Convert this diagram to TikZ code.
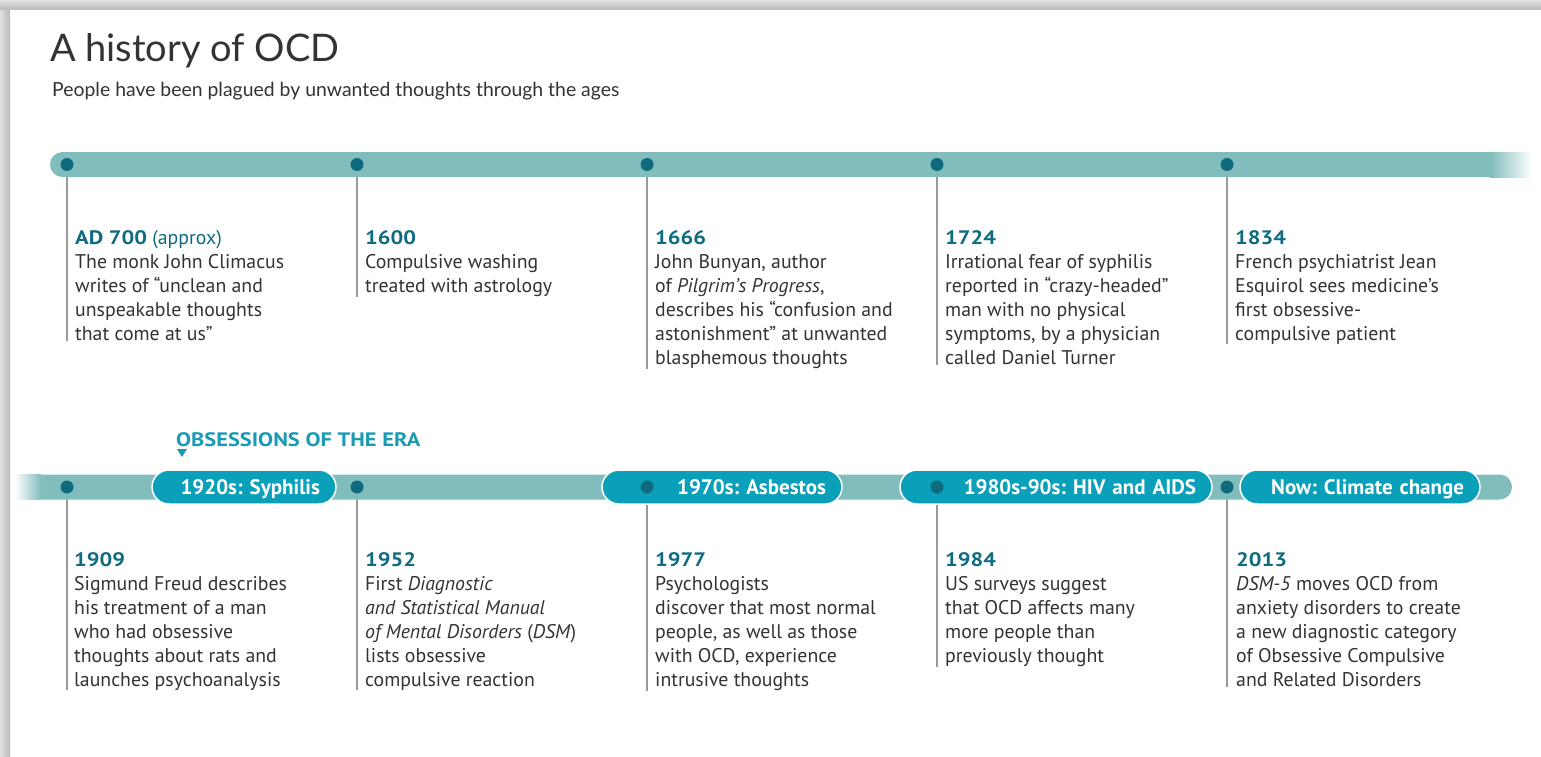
\documentclass[tikz,border=0pt]{standalone}
\usepackage{fontspec}
\setmainfont{PT Sans}
\newfontfamily\headfont{Lato}
\newfontfamily\yearfont[FakeStretch=1.15]{PT Sans}

\definecolor{barteal}{HTML}{82BDBD}
\definecolor{dotteal}{HTML}{0F6A7E}
\definecolor{pillteal}{HTML}{0AA0B9}
\definecolor{yearteal}{HTML}{0E6B80}
\definecolor{erateal}{HTML}{1A9AB5}
\definecolor{bodygray}{HTML}{333333}
\definecolor{stemgray}{HTML}{9A9A9A}

\newcommand\entrysize{\frenchspacing\fontsize{19.8}{24}\selectfont}
\newcommand\pillfont{\frenchspacing\bfseries\fontsize{21}{22}\selectfont}
\newcommand\yr[1]{{\yearfont\bfseries\fontsize{19.5}{24}\selectfont\color{yearteal}#1}}

\tikzset{
    tldot/.style = {circle, fill = dotteal, inner sep = 0pt, minimum size = 13pt},
    stem/.style = {draw = stemgray, line width = 1.5pt},
    entry/.style = {anchor = north west, inner sep = 0pt, align = left, text = bodygray, font = \entrysize},
    era/.style = {rounded corners = 17pt, fill = pillteal, draw = white, line width = 1.5pt, text = white,
        font = \pillfont, minimum height = 34pt, inner xsep = 16pt, inner ysep = 0pt, align = right,
        text height = 14.5pt, text depth = 0pt}
}

\begin{document}
\begin{tikzpicture}[x = 1pt, y = -1pt]
        \useasboundingbox (0, 0) rectangle (1541, 757);
        \fill [white] (0, 0) rectangle (1541, 757);
        \shade [left color = gray!25, right color = gray!55] (0, 0) rectangle (10, 757);
        \shade [top color = gray!25, bottom color = gray!55] (0, 0) rectangle (1541, 10);

        \node [anchor = base west, inner sep = 0pt, text = bodygray, font = \headfont\fontsize{38}{40}\selectfont] (title) at (50, 62) {A history of OCD};
        \node [anchor = base west, inner sep = 0pt, text = bodygray, font = \headfont\fontsize{19.4}{20}\selectfont] (subtitle) at (52, 97) {People have been plagued by unwanted thoughts through the ages};

        \node [tldot] (d1) at (67, 164) {};
        \node [tldot] (d2) at (357, 164) {};
        \node [tldot] (d3) at (647, 164) {};
        \node [tldot] (d4) at (937, 164) {};
        \node [tldot] (d5) at (1227, 164) {};

        \node [entry] (t1) at (75, 230) {\yr{AD 700} {\color{yearteal}(approx)}\\The monk John Climacus\\writes of “unclean and\\unspeakable thoughts\\that come at us”};
        \node [entry] (t2) at (365, 230) {\yr{1600}\\Compulsive washing\\treated with astrology};
        \node [entry] (t3) at (655, 230) {\yr{1666}\\John Bunyan, author\\of \textit{Pilgrim’s Progress},\\describes his “confusion and\\astonishment” at unwanted\\blasphemous thoughts};
        \node [entry] (t4) at (945, 230) {\yr{1724}\\Irrational fear of syphilis\\reported in “crazy-headed”\\man with no physical\\symptoms, by a physician\\called Daniel Turner};
        \node [entry] (t5) at (1235, 230) {\yr{1834}\\French psychiatrist Jean\\Esquirol sees medicine’s\\first obsessive-\\compulsive patient};

        \draw [stem] (d1.center) -- (d1.center |- t1.south);
        \draw [stem] (d2.center) -- (d2.center |- t2.south);
        \draw [stem] (d3.center) -- (d3.center |- t3.south);
        \draw [stem] (d4.center) -- (d4.center |- t4.south);
        \draw [stem] (d5.center) -- (d5.center |- t5.south);

        \fill [barteal] (1491, 152) -- (62.5, 152) arc (270:90:12.5) -- (1491, 177) -- cycle;
        \shade [left color = barteal, right color = white] (1490, 152) rectangle (1532, 177);

        \node [tldot] (d1) at (67, 164.5) {};
        \node [tldot] (d2) at (357, 164.5) {};
        \node [tldot] (d3) at (647, 164.5) {};
        \node [tldot] (d4) at (937, 164.5) {};
        \node [tldot] (d5) at (1227, 164.5) {};

        \node [anchor = base west, inner sep = 0pt, text = erateal, font = \yearfont\bfseries\fontsize{19.5}{20}\selectfont] (eras) at (176, 446) {OBSESSIONS OF THE ERA};
        \fill [erateal] (177, 449) -- (187, 449) -- (182, 457) -- cycle;

        \node [tldot] (e1) at (67, 487) {};
        \node [tldot] (e2) at (357, 487) {};
        \node [tldot] (e3) at (647, 487) {};
        \node [tldot] (e4) at (937, 487) {};
        \node [tldot] (e5) at (1227, 487) {};

        \node [entry] (b1) at (74, 552) {\yr{1909}\\Sigmund Freud describes\\his treatment of a man\\who had obsessive\\thoughts about rats and\\launches psychoanalysis};
        \node [entry] (b2) at (365, 552) {\yr{1952}\\First \textit{Diagnostic}\\\textit{and Statistical Manual}\\\textit{of Mental Disorders} (\textit{DSM})\\lists obsessive\\compulsive reaction};
        \node [entry] (b3) at (655, 552) {\yr{1977}\\Psychologists\\discover that most normal\\people, as well as those\\with OCD, experience\\intrusive thoughts};
        \node [entry] (b4) at (945, 552) {\yr{1984}\\US surveys suggest\\that OCD affects many\\more people than\\previously thought};
        \node [entry] (b5) at (1236, 552) {\yr{2013}\\\textit{DSM-5} moves OCD from\\anxiety disorders to create\\a new diagnostic category\\of Obsessive Compulsive\\and Related Disorders};

        \draw [stem] (e1.center) -- (e1.center |- b1.south);
        \draw [stem] (e2.center) -- (e2.center |- b2.south);
        \draw [stem] (e3.center) -- (e3.center |- b3.south);
        \draw [stem] (e4.center) -- (e4.center |- b4.south);
        \draw [stem] (e5.center) -- (e5.center |- b5.south);

        \fill [barteal] (40, 474.5) -- (1499.5, 474.5) arc (-90:90:12.5) -- (40, 499.5) -- cycle;
        \shade [left color = white, right color = barteal] (15, 474.5) rectangle (41, 499.5);

        \node [era, text width = 152pt] (p1) at (244, 487) {1920s: Syphilis};
        \node [era, text width = 208pt] (p2) at (722, 487) {1970s: Asbestos};
        \node [era, text width = 280pt] (p3) at (1056, 487) {1980s-90s: HIV and AIDS};
        \node [era, text width = 208pt] (p4) at (1360, 487) {Now: Climate change};

        \node [tldot] (e1) at (67, 487) {};
        \node [tldot] (e2) at (357, 487) {};
        \node [tldot] (e3) at (647, 487) {};
        \node [tldot] (e4) at (937, 487) {};
        \node [tldot] (e5) at (1227, 487) {};
    \end{tikzpicture}
\end{document}
